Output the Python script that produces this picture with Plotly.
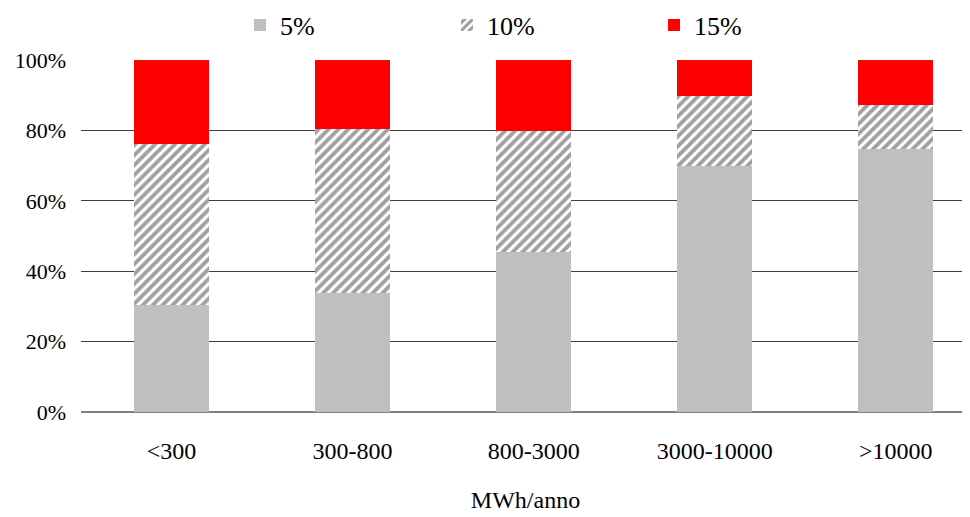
import plotly.graph_objects as go

categories = ["<300", "300-800", "800-3000", "3000-10000", ">10000"]
s5 = [0.304, 0.339, 0.455, 0.700, 0.747]
s10 = [0.457, 0.465, 0.344, 0.199, 0.125]
s15 = [0.239, 0.196, 0.201, 0.101, 0.128]
ytickvals = [0, 0.2, 0.4, 0.6, 0.8, 1.0]
yticktext = ["0%", "20%", "40%", "60%", "80%", "100%"]

FONT = "'Liberation Serif', 'Times New Roman', Times, 'DejaVu Serif', serif"

fig = go.Figure()
fig.add_trace(go.Bar(x=categories, y=s5, name="5%", marker=dict(color="#bfbfbf", line=dict(width=0))))
fig.add_trace(go.Bar(x=categories, y=s10, name="10%",
                     marker=dict(color="#ffffff", line=dict(width=0),
                                 pattern=dict(shape="/", fgcolor="#a0a0a0", bgcolor="#ffffff",
                                              size=7, solidity=0.55, fillmode="replace"))))
fig.add_trace(go.Bar(x=categories, y=s15, name="15%", marker=dict(color="#ff0000", line=dict(width=0))))

fig.update_layout(
    width=962, height=509,
    barmode="stack", bargap=0.586,
    plot_bgcolor="white", paper_bgcolor="white",
    margin=dict(l=73, r=0, t=52, b=105, autoexpand=False),
    font=dict(family=FONT, color="black", size=22),
    showlegend=True,
    legend=dict(orientation="h", x=232 / 962, xanchor="left", xref="container",
                y=1 - 17 / 509, yanchor="middle", yref="container",
                font=dict(family=FONT, size=26), entrywidth=162, entrywidthmode="pixels",
                bgcolor="rgba(0,0,0,0)", traceorder="normal"),
    hovermode=False,
)
fig.update_xaxes(range=[-0.5, 4.41], showgrid=False, showline=False, ticks="",
                 ticklabelstandoff=22,
                 tickfont=dict(family=FONT, size=24),
                 title=dict(text="MWh/anno", font=dict(family=FONT, size=24), standoff=28))
fig.update_yaxes(range=[0, 1], tickvals=ytickvals, ticktext=yticktext,
                 showgrid=True, gridcolor="#404040", gridwidth=1,
                 zeroline=True, zerolinecolor="#808080", zerolinewidth=1.5,
                 showline=False, ticks="", ticklabelstandoff=14,
                 tickfont=dict(family=FONT, size=22))

fig.write_html("out.html")
